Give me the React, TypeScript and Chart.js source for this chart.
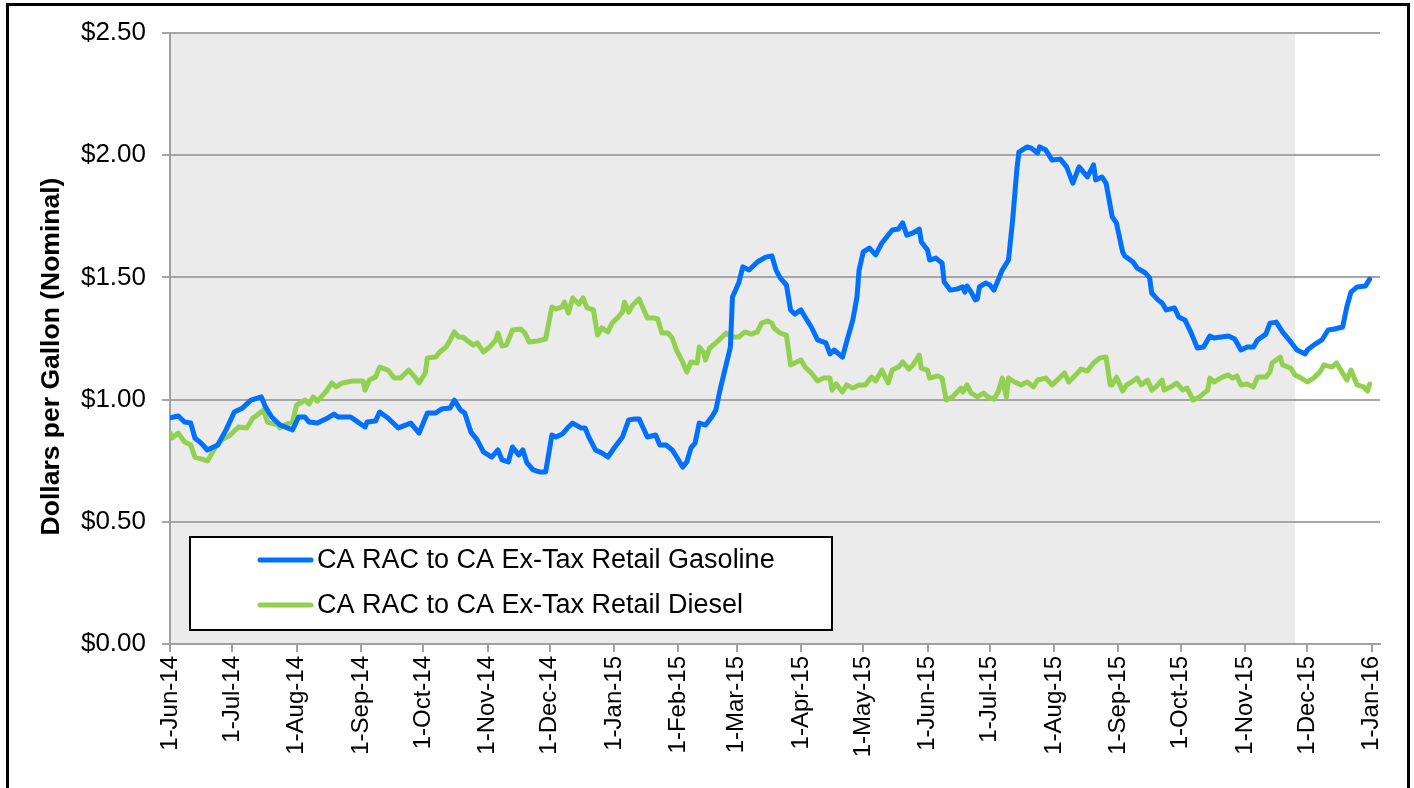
import React, { useEffect, useRef } from "react";
import { Chart, registerables } from "chart.js";

Chart.register(...registerables);

// ---- Data (days since 1-Jun-14, dollars per gallon) ----
const gasDays = [
  0, 4, 7, 10, 12, 15, 18, 23, 27, 31,
  35, 39, 44, 46, 49, 53, 59, 62, 65, 67,
  71, 76, 79, 81, 87, 89, 94, 95, 99, 101,
  105, 110, 116, 120, 124, 128, 131, 135, 137, 140,
  142, 145, 148, 151, 155, 158, 160, 163, 165, 168,
  170, 172, 175, 178, 181, 184, 186, 189, 192, 194,
  198, 200, 202, 205, 208, 211, 214, 218, 221, 224,
  226, 230, 234, 236, 239, 242, 245, 247, 249, 251,
  253, 255, 258, 261, 263, 265, 267, 270, 271, 274,
  276, 279, 283, 287, 290, 292, 294, 297, 299, 301,
  304, 306, 309, 312, 316, 318, 320, 324, 326, 329,
  331, 332, 334, 337, 340, 343, 348, 351, 353, 355,
  358, 361, 362, 365, 366, 369, 372, 373, 376, 379,
  382, 383, 384, 386, 388, 389, 390, 393, 395, 397,
  401, 404, 406, 408, 409, 413, 415, 418, 419, 422,
  425, 429, 432, 435, 438, 442, 445, 446, 449, 451,
  454, 456, 459, 460, 464, 466, 470, 472, 473, 476,
  478, 480, 484, 486, 489, 492, 495, 498, 501, 503,
  510, 513, 516, 519, 522, 524, 528, 530, 533, 536,
  540, 543, 547, 548, 551, 555, 558, 561, 565, 567,
  569, 572, 576, 578,
];
const gasValues = [
  0.925, 0.933, 0.908, 0.904, 0.843, 0.822, 0.794, 0.814, 0.876, 0.949,
  0.966, 0.998, 1.011, 0.970, 0.929, 0.896, 0.876, 0.929, 0.929, 0.908,
  0.904, 0.925, 0.941, 0.929, 0.929, 0.917, 0.888, 0.908, 0.912, 0.949,
  0.925, 0.884, 0.904, 0.863, 0.945, 0.945, 0.962, 0.966, 0.998, 0.957,
  0.945, 0.867, 0.835, 0.786, 0.765, 0.794, 0.753, 0.745, 0.806, 0.773,
  0.794, 0.741, 0.712, 0.704, 0.704, 0.855, 0.847, 0.859, 0.888, 0.904,
  0.884, 0.884, 0.843, 0.794, 0.782, 0.765, 0.802, 0.847, 0.917, 0.921,
  0.921, 0.847, 0.855, 0.814, 0.814, 0.794, 0.753, 0.724, 0.745, 0.802,
  0.822, 0.904, 0.896, 0.929, 0.957, 1.039, 1.109, 1.215, 1.420, 1.477,
  1.543, 1.530, 1.563, 1.583, 1.588, 1.530, 1.498, 1.469, 1.367, 1.350,
  1.367, 1.338, 1.297, 1.244, 1.232, 1.187, 1.203, 1.174, 1.236, 1.326,
  1.420, 1.530, 1.604, 1.620, 1.592, 1.641, 1.694, 1.698, 1.723, 1.673,
  1.682, 1.698, 1.645, 1.612, 1.571, 1.579, 1.559, 1.481, 1.448, 1.452,
  1.461, 1.440, 1.465, 1.440, 1.408, 1.412, 1.461, 1.477, 1.469, 1.448,
  1.530, 1.571, 1.735, 1.939, 2.013, 2.034, 2.029, 2.009, 2.034, 2.021,
  1.980, 1.984, 1.952, 1.886, 1.952, 1.911, 1.960, 1.899, 1.911, 1.886,
  1.747, 1.723, 1.604, 1.588, 1.563, 1.538, 1.518, 1.498, 1.436, 1.408,
  1.395, 1.367, 1.375, 1.338, 1.326, 1.273, 1.211, 1.215, 1.260, 1.252,
  1.260, 1.248, 1.203, 1.215, 1.215, 1.244, 1.268, 1.313, 1.317, 1.277,
  1.236, 1.203, 1.187, 1.203, 1.223, 1.244, 1.285, 1.289, 1.297, 1.379,
  1.440, 1.461, 1.465, 1.493,
];

const dieselDays = [
  0, 1, 4, 7, 10, 12, 15, 18, 22, 25,
  29, 33, 37, 40, 42, 45, 47, 52, 53, 56,
  59, 61, 65, 67, 69, 71, 75, 78, 80, 83,
  88, 93, 94, 96, 99, 101, 105, 108, 111, 115,
  118, 120, 123, 124, 128, 130, 133, 135, 137, 139,
  141, 146, 148, 151, 154, 157, 158, 160, 162, 165,
  169, 171, 173, 177, 181, 184, 186, 189, 190, 192,
  194, 197, 199, 201, 204, 206, 208, 211, 213, 216,
  218, 219, 221, 223, 226, 230, 233, 235, 237, 240,
  242, 244, 247, 248, 249, 251, 254, 255, 257, 258,
  260, 263, 266, 268, 271, 274, 277, 280, 283, 285,
  288, 290, 291, 294, 297, 299, 301, 304, 306, 309,
  312, 315, 318, 319, 321, 324, 326, 329, 332, 335,
  338, 340, 343, 346, 348, 351, 353, 356, 358, 361,
  362, 365, 366, 370, 372, 374, 377, 381, 382, 384,
  386, 389, 392, 394, 397, 399, 401, 403, 404, 407,
  410, 413, 416, 418, 422, 425, 429, 431, 433, 436,
  439, 442, 445, 448, 451, 453, 454, 456, 459, 461,
  464, 466, 468, 471, 473, 475, 478, 479, 483, 485,
  488, 490, 493, 496, 500, 501, 503, 507, 510, 512,
  514, 516, 519, 522, 524, 528, 530, 531, 535, 536,
  540, 542, 545, 548, 551, 554, 556, 560, 562, 565,
  567, 569, 572, 575, 577, 578,
];
const dieselValues = [
  0.863, 0.843, 0.863, 0.827, 0.814, 0.765, 0.757, 0.749, 0.806, 0.835,
  0.855, 0.888, 0.884, 0.925, 0.937, 0.957, 0.908, 0.896, 0.884, 0.900,
  0.908, 0.978, 0.998, 0.982, 1.011, 0.994, 1.031, 1.068, 1.052, 1.068,
  1.076, 1.076, 1.039, 1.080, 1.092, 1.133, 1.121, 1.088, 1.088, 1.121,
  1.092, 1.068, 1.109, 1.170, 1.174, 1.195, 1.215, 1.244, 1.277, 1.256,
  1.256, 1.223, 1.232, 1.195, 1.215, 1.244, 1.272, 1.219, 1.223, 1.285,
  1.289, 1.272, 1.236, 1.240, 1.248, 1.379, 1.371, 1.379, 1.399, 1.354,
  1.416, 1.391, 1.416, 1.375, 1.367, 1.264, 1.293, 1.277, 1.313, 1.338,
  1.358, 1.399, 1.358, 1.387, 1.412, 1.334, 1.334, 1.330, 1.272, 1.272,
  1.252, 1.203, 1.154, 1.133, 1.113, 1.154, 1.150, 1.215, 1.195, 1.162,
  1.211, 1.232, 1.256, 1.272, 1.256, 1.256, 1.277, 1.268, 1.277, 1.313,
  1.322, 1.313, 1.293, 1.272, 1.264, 1.142, 1.150, 1.162, 1.133, 1.109,
  1.076, 1.088, 1.088, 1.039, 1.064, 1.031, 1.060, 1.047, 1.060, 1.060,
  1.092, 1.076, 1.121, 1.068, 1.121, 1.133, 1.154, 1.125, 1.142, 1.182,
  1.129, 1.121, 1.088, 1.097, 1.088, 0.998, 1.011, 1.047, 1.031, 1.060,
  1.027, 1.011, 1.027, 1.011, 1.002, 1.031, 1.088, 1.011, 1.088, 1.072,
  1.060, 1.072, 1.052, 1.080, 1.088, 1.060, 1.092, 1.109, 1.072, 1.097,
  1.125, 1.117, 1.150, 1.170, 1.174, 1.060, 1.060, 1.092, 1.035, 1.060,
  1.076, 1.088, 1.060, 1.080, 1.039, 1.052, 1.080, 1.039, 1.056, 1.068,
  1.039, 1.047, 0.998, 1.011, 1.039, 1.088, 1.072, 1.092, 1.101, 1.088,
  1.097, 1.060, 1.064, 1.052, 1.092, 1.092, 1.113, 1.150, 1.174, 1.142,
  1.129, 1.101, 1.088, 1.072, 1.088, 1.113, 1.142, 1.133, 1.150, 1.109,
  1.080, 1.121, 1.060, 1.052, 1.035, 1.064,
];

const seriesNames = [
  "CA RAC to CA Ex-Tax Retail Gasoline",
  "CA RAC to CA Ex-Tax Retail Diesel",
];
const seriesColors = ["#0070FF", "#92D050"];

const xTickLabels = [
  "1-Jun-14", "1-Jul-14", "1-Aug-14", "1-Sep-14", "1-Oct-14", "1-Nov-14",
  "1-Dec-14", "1-Jan-15", "1-Feb-15", "1-Mar-15", "1-Apr-15", "1-May-15",
  "1-Jun-15", "1-Jul-15", "1-Aug-15", "1-Sep-15", "1-Oct-15", "1-Nov-15",
  "1-Dec-15", "1-Jan-16",
];
const yTickValues = [0, 0.5, 1.0, 1.5, 2.0, 2.5];
const axisEndLabel = "5-Jan-16";
const shadedUntilLabel = "25-Nov-15";
const yAxisTitle = "Dollars per Gallon (Nominal)";

// ---- helpers ----
const MONTHS = ["Jan", "Feb", "Mar", "Apr", "May", "Jun", "Jul", "Aug", "Sep", "Oct", "Nov", "Dec"];
const ORIGIN = Date.UTC(2014, 5, 1);
function labelToDay(label: string): number {
  const [d, m, y] = label.split("-");
  const t = Date.UTC(2000 + Number(y), MONTHS.indexOf(m), Number(d));
  return Math.round((t - ORIGIN) / 86400000);
}
const xTickDays = xTickLabels.map(labelToDay);
const xMax = labelToDay(axisEndLabel);
const shadeEnd = labelToDay(shadedUntilLabel);

const FONT = "'Liberation Sans', Arial, Helvetica, sans-serif";

const shadePlugin = {
  id: "shade",
  beforeDraw(chart: any) {
    const { ctx, chartArea, scales } = chart;
    const xe = scales.x.getPixelForValue(shadeEnd);
    ctx.save();
    ctx.fillStyle = "#EBEBEB";
    ctx.fillRect(chartArea.left, chartArea.top, xe - chartArea.left, chartArea.bottom - chartArea.top);
    ctx.restore();
  },
};

const yTitlePlugin = {
  id: "yTitle",
  afterDraw(chart: any) {
    const { ctx, chartArea } = chart;
    ctx.save();
    ctx.translate(52, (chartArea.top + chartArea.bottom) / 2 + 18);
    ctx.rotate(-Math.PI / 2);
    ctx.fillStyle = "#000000";
    ctx.font = `bold 26.5px ${FONT}`;
    ctx.textAlign = "center";
    ctx.textBaseline = "middle";
    ctx.fillText(yAxisTitle, 0, 0);
    ctx.restore();
  },
};

const legendPlugin = {
  id: "boxLegend",
  afterDraw(chart: any) {
    const { ctx, chartArea } = chart;
    const bx = chartArea.left + 20;
    const by = chartArea.bottom - 107;
    const bw = 642;
    const bh = 93;
    ctx.save();
    ctx.fillStyle = "#FFFFFF";
    ctx.fillRect(bx, by, bw, bh);
    ctx.lineWidth = 2;
    ctx.strokeStyle = "#000000";
    ctx.strokeRect(bx, by, bw, bh);
    chart.data.datasets.forEach((ds: any, i: number) => {
      const ry = by + 23 + i * 45;
      ctx.beginPath();
      ctx.strokeStyle = ds.borderColor;
      ctx.lineWidth = 5;
      ctx.lineCap = "round";
      ctx.moveTo(bx + 70, ry);
      ctx.lineTo(bx + 121, ry);
      ctx.stroke();
      ctx.fillStyle = "#000000";
      ctx.font = `27px ${FONT}`;
      ctx.textBaseline = "middle";
      ctx.textAlign = "left";
      ctx.fillText(ds.label, bx + 127, ry + 1);
    });
    ctx.restore();
  },
};

export default function App() {
  const canvasRef = useRef<HTMLCanvasElement | null>(null);

  useEffect(() => {
    if (!canvasRef.current) return;
    const gas = gasDays.map((d, i) => ({ x: d, y: gasValues[i] }));
    const diesel = dieselDays.map((d, i) => ({ x: d, y: dieselValues[i] }));
    const chart = new Chart(canvasRef.current, {
      type: "line",
      data: {
        datasets: [
          {
            label: seriesNames[0],
            data: gas,
            borderColor: seriesColors[0],
            backgroundColor: seriesColors[0],
            borderWidth: 5,
            pointRadius: 0,
            tension: 0,
            borderJoinStyle: "round",
            borderCapStyle: "round",
          },
          {
            label: seriesNames[1],
            data: diesel,
            borderColor: seriesColors[1],
            backgroundColor: seriesColors[1],
            borderWidth: 5,
            pointRadius: 0,
            tension: 0,
            borderJoinStyle: "round",
            borderCapStyle: "round",
          },
        ],
      },
      options: {
        responsive: false,
        animation: false,
        devicePixelRatio: 1,
        layout: { padding: { left: 0, top: 33, right: 34, bottom: 0 } },
        plugins: {
          legend: { display: false },
          tooltip: { enabled: false },
          title: { display: false },
        },
        scales: {
          x: {
            type: "linear",
            min: 0,
            max: xMax,
            afterBuildTicks: (scale: any) => {
              scale.ticks = xTickDays.map((v) => ({ value: v }));
            },
            afterFit: (scale: any) => {
              scale.height = 144;
            },
            ticks: {
              autoSkip: false,
              minRotation: 90,
              maxRotation: 90,
              padding: 4,
              color: "#000000",
              font: { family: FONT, size: 24 },
              callback: (value: any) => {
                const idx = xTickDays.indexOf(Number(value));
                return idx >= 0 ? xTickLabels[idx] : "";
              },
            },
            grid: {
              drawOnChartArea: false,
              drawTicks: true,
              tickLength: 8,
              color: "#A0A0A0",
              lineWidth: 2,
            },
            border: { display: true, color: "#A0A0A0", width: 2 },
          },
          y: {
            type: "linear",
            min: 0,
            max: 2.5,
            afterBuildTicks: (scale: any) => {
              scale.ticks = yTickValues.map((v) => ({ value: v }));
            },
            afterFit: (scale: any) => {
              scale.width = 170;
            },
            ticks: {
              padding: 16,
              color: "#000000",
              font: { family: FONT, size: 26 },
              callback: (value: any) => "$" + Number(value).toFixed(2),
            },
            grid: {
              color: "#A6A6A6",
              lineWidth: 2,
              tickLength: 8,
            },
            border: { display: true, color: "#A0A0A0", width: 2 },
            title: { display: false },
          },
        },
      },
      plugins: [shadePlugin, legendPlugin, yTitlePlugin],
    } as any);
    return () => chart.destroy();
  }, []);

  return (
    <div style={{ position: "fixed", left: 0, top: 0, width: 1414, height: 788, background: "#FFFFFF", overflow: "hidden" }}>
      <canvas ref={canvasRef} width={1414} height={788} style={{ position: "absolute", left: 0, top: 0, width: 1414, height: 788 }} />
      <div
        style={{
          position: "absolute",
          left: 6,
          top: 3,
          width: 1398,
          height: 820,
          border: "3px solid #000000",
          pointerEvents: "none",
        }}
      />
    </div>
  );
}
